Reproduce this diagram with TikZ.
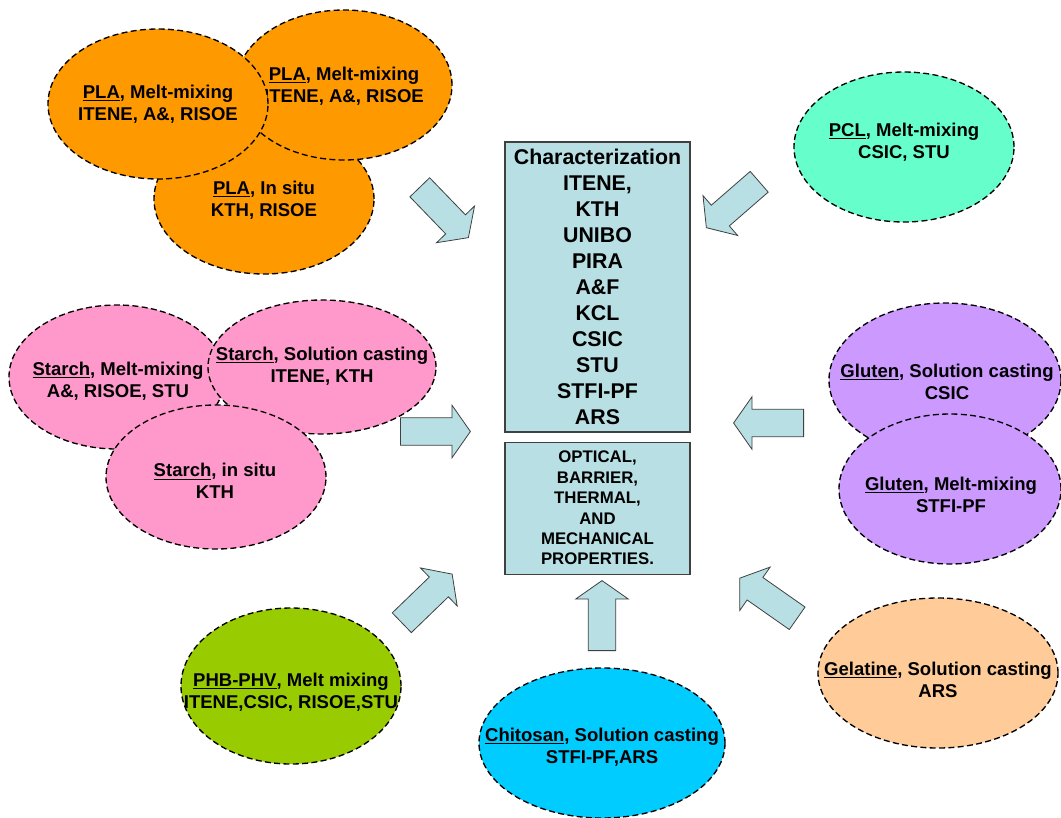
\documentclass[tikz,border=0pt]{standalone}
\usepackage{fontspec}
\setmainfont{Liberation Sans}
\usetikzlibrary{shapes.geometric, shapes.arrows, positioning}

\definecolor{plaorange}{HTML}{FF9900}
\definecolor{starchpink}{HTML}{FF99CC}
\definecolor{pclmint}{HTML}{66FFCC}
\definecolor{glutenlilac}{HTML}{CC99FF}
\definecolor{gelpeach}{HTML}{FFCC99}
\definecolor{chitoblue}{HTML}{00CCFF}
\definecolor{phbgreen}{HTML}{99CC00}
\definecolor{panelblue}{HTML}{B8DFE3}
\definecolor{edgegray}{HTML}{404040}

\tikzset{
  blob/.style={ellipse, draw=black, line width=1pt, dash pattern=on 4.5pt off 2.5pt, inner sep=0pt},
  blobtext/.style={align=center, font=\fontsize{13.9}{16.5}\selectfont\bfseries},
  panel/.style={rectangle, draw=edgegray, fill=panelblue, line width=0.9pt, minimum width=138.75pt, align=center, inner sep=0pt},
  fatarrow/.style={single arrow, draw=edgegray, fill=panelblue, line width=0.6pt, inner xsep=0pt, inner ysep=10pt,
    minimum width=0pt, minimum height=52.5pt, single arrow head extend=9.5pt, single arrow tip angle=110, anchor=tail}
}

\begin{document}
\begin{tikzpicture}[x=0.75pt, y=-0.75pt]
  \useasboundingbox (0,0) rectangle (1061,818);

  \node[blob, fill=plaorange, minimum width=165pt, minimum height=112.5pt] (pla3) at (264,199) {};
  \node[blobtext] (pla3txt) at (264,200) {\underline{PLA}, In situ\\KTH, RISOE};
  \node[blob, fill=plaorange, minimum width=162pt, minimum height=112.5pt] (pla2) at (344,85) {};
  \node[blobtext] (pla2txt) at (344,86) {\underline{PLA}, Melt-mixing\\ITENE, A\&, RISOE};
  \node[blob, fill=plaorange, minimum width=165pt, minimum height=112.5pt] (pla1) at (158,104) {};
  \node[blobtext] (pla1txt) at (158,104) {\underline{PLA}, Melt-mixing\\ITENE, A\&, RISOE};

  \node[blob, fill=starchpink, minimum width=162pt, minimum height=108pt] (st1) at (117,377) {};
  \node[blobtext] (st1txt) at (118,381) {\underline{Starch}, Melt-mixing\\A\&, RISOE, STU};
  \node[blob, fill=starchpink, minimum width=171pt, minimum height=100.5pt] (st2) at (322,367) {};
  \node[blobtext] (st2txt) at (322,366) {\underline{Starch}, Solution casting\\ITENE, KTH};
  \node[blob, fill=starchpink, minimum width=165pt, minimum height=108pt] (st3) at (216,477) {};
  \node[blobtext] (st3txt) at (215,481) {\underline{Starch}, in situ\\KTH};

  \node[blob, fill=pclmint, minimum width=165pt, minimum height=112.5pt] (pcl) at (904,147) {};
  \node[blobtext] (pcltxt) at (904,142) {\underline{PCL}, Melt-mixing\\CSIC, STU};

  \node[blob, fill=glutenlilac, minimum width=174pt, minimum height=115.5pt] (glu1) at (945,380) {};
  \node[blobtext] (glu1txt) at (947,382) {\underline{Gluten}, Solution casting\\CSIC};
  \node[blob, fill=glutenlilac, minimum width=166.5pt, minimum height=112.5pt] (glu2) at (950,489) {};
  \node[blobtext] (glu2txt) at (951,495) {\underline{Gluten}, Melt-mixing\\STFI-PF};

  \node[blob, fill=gelpeach, minimum width=180pt, minimum height=112.5pt] (gel) at (938,673) {};
  \node[blobtext] (geltxt) at (938,680) {\underline{Gelatine}, Solution casting\\ARS};

  \node[blob, fill=chitoblue, minimum width=184.5pt, minimum height=112.5pt] (chi) at (602,743) {};
  \node[blobtext] (chitxt) at (602,747) {\underline{Chitosan}, Solution casting\\STFI-PF,ARS};

  \node[blob, fill=phbgreen, minimum width=165pt, minimum height=117pt] (phb) at (291,686) {};
  \node[blobtext] (phbtxt) at (291,692) {\underline{PHB-PHV}, Melt mixing\\ITENE,CSIC, RISOE,STU};

  \node[panel, minimum height=217.5pt, font=\fontsize{16}{19.5}\selectfont\bfseries] (chars) at (597.5,287)
    {Characterization\\ITENE,\\KTH\\UNIBO\\PIRA\\A\&F\\KCL\\CSIC\\STU\\STFI-PF\\ARS};
  \node[panel, minimum height=99pt, font=\fontsize{12.6}{15.3}\selectfont\bfseries] (props) [below=6.75pt of chars]
    {OPTICAL,\\BARRIER,\\THERMAL,\\AND\\MECHANICAL\\PROPERTIES.};

  \node[fatarrow, rotate=-46] (plaarrow) at (419.5,187) {};
  \node[fatarrow, rotate=-139] (pclarrow) at (759.5,181.5) {};
  \node[fatarrow] (starcharrow) at (400,431.5) {};
  \node[fatarrow, rotate=180] (glutenarrow) at (804,423) {};
  \node[fatarrow, rotate=44] (phbarrow) at (401.5,623) {};
  \node[fatarrow, rotate=90] (chiarrow) at (602,651) {};
  \node[fatarrow, rotate=145] (gelarrow) at (797.5,618.5) {};
\end{tikzpicture}
\end{document}
